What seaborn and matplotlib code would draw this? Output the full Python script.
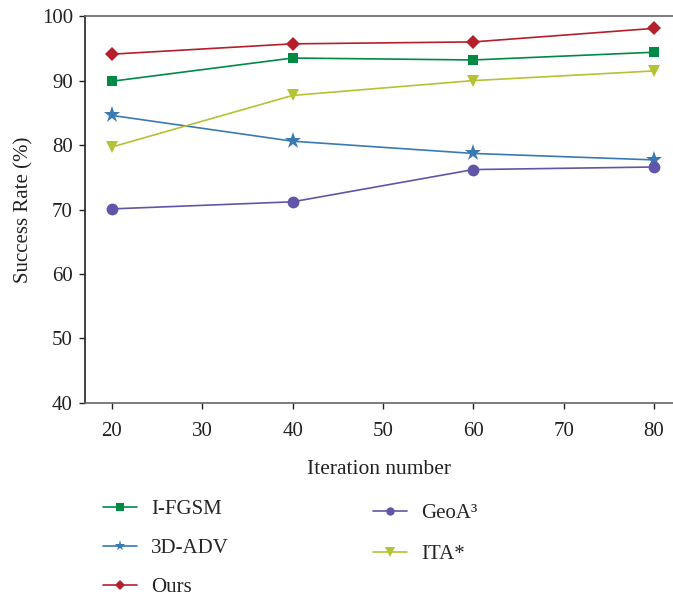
import matplotlib
matplotlib.use("Agg")
import matplotlib.pyplot as plt
import seaborn as sns
import pandas as pd
from matplotlib.lines import Line2D

iterations = [20, 40, 60, 80]
methods = ["I-FGSM", "3D-ADV", "Ours", "GeoA³", "ITA*"]
ifgsm = [89.9, 93.5, 93.2, 94.4]
adv3d = [84.6, 80.6, 78.7, 77.7]
ours = [94.1, 95.7, 96.0, 98.1]
geoa3 = [70.1, 71.2, 76.2, 76.6]
ita = [79.7, 87.7, 90.0, 91.5]

series = [ifgsm, adv3d, ours, geoa3, ita]
rows = []
for m, vals in zip(methods, series):
    for it, v in zip(iterations, vals):
        rows.append({"Iteration": it, "Rate": v, "Method": m})
df = pd.DataFrame(rows)

palette = {"I-FGSM": "#008a45", "3D-ADV": "#3a7ab2", "Ours": "#b51f2b",
           "GeoA³": "#5f56a8", "ITA*": "#b4c234"}
markers = {"I-FGSM": "s", "3D-ADV": "*", "Ours": "D",
           "GeoA³": "o", "ITA*": "v"}
msizes = {"I-FGSM": 7.5, "3D-ADV": 12.5, "Ours": 7, "GeoA³": 8.5, "ITA*": 9}
leg_msizes = {"I-FGSM": 6, "3D-ADV": 8, "Ours": 5.5, "GeoA³": 6, "ITA*": 7}

sns.set_style("white")
plt.rcParams["font.family"] = ["Liberation Serif", "DejaVu Serif"]

fig = plt.figure(figsize=(6.73, 5.97), dpi=100)
ax = fig.add_axes([0.126, 0.325, 0.874, 0.648])

sns.lineplot(data=df, x="Iteration", y="Rate", hue="Method", style="Method",
             palette=palette, markers=markers, dashes=False, ax=ax,
             linewidth=1.2, markersize=8, markeredgewidth=0, legend=False)

for line, m in zip(ax.get_lines(), methods):
    line.set_markersize(msizes[m])

ax.set_xlim(17.0, 82.1)
ax.set_ylim(40, 100)
ax.set_xticks([20, 30, 40, 50, 60, 70, 80])
ax.set_yticks([40, 50, 60, 70, 80, 90, 100])
ax.tick_params(axis="both", direction="out", length=4.5, width=1, labelsize=15,
               colors="#222222", bottom=True, left=True)
ax.tick_params(axis="x", pad=9)
ax.tick_params(axis="y", pad=4)
ax.set_xlabel("Iteration number", fontsize=15.5, labelpad=14, color="#222222")
ax.set_ylabel("Success Rate (%)", fontsize=15, labelpad=6, color="#222222")

ax.spines["right"].set_visible(False)
ax.spines["top"].set_color("#666666")
ax.spines["bottom"].set_color("#666666")
ax.spines["left"].set_color("#222222")
for s in ["top", "bottom", "left"]:
    ax.spines[s].set_linewidth(1.2)

def mk_handle(m):
    return Line2D([], [], color=palette[m], marker=markers[m], linewidth=1.2,
                  markersize=leg_msizes[m], markeredgewidth=0)

common = dict(loc="upper left", frameon=False, fontsize=15, handlelength=1.65,
              handletextpad=0.65, borderpad=0, borderaxespad=0)
col1 = methods[:3]
col2 = methods[3:]
fig.legend([mk_handle(m) for m in col1], col1, bbox_to_anchor=(0.153, 0.163),
           labelspacing=0.93, **common)
fig.legend([mk_handle(m) for m in col2], col2, bbox_to_anchor=(0.554, 0.157),
           labelspacing=1.05, **common)

fig.savefig("out.png", dpi=100)
